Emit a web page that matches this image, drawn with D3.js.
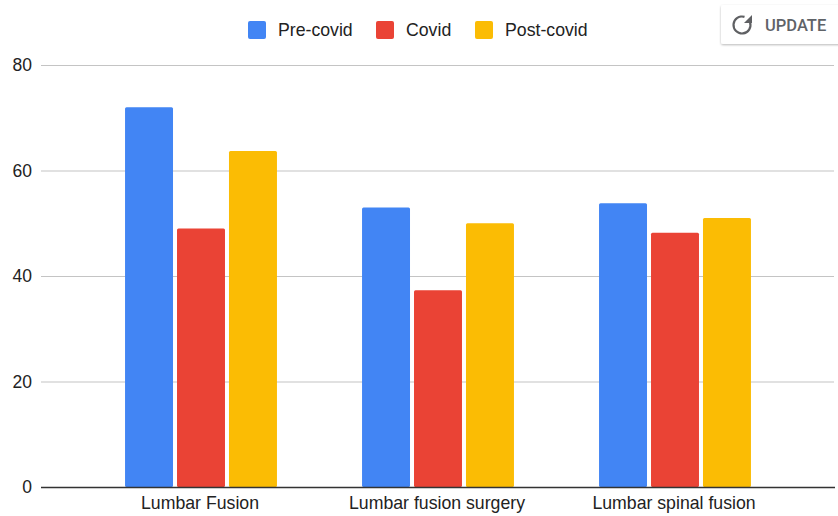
<!DOCTYPE html>
<html>
<head>
<meta charset="utf-8">
<script src="https://d3js.org/d3.v7.min.js"></script>
<style>
html, body { margin: 0; padding: 0; background: #fff; }
text { font-family: "Liberation Sans", Arial, sans-serif; fill: #222; }
</style>
</head>
<body>
<div id="chart"></div>
<script>
var categories = ["Lumbar Fusion", "Lumbar fusion surgery", "Lumbar spinal fusion"];
var seriesNames = ["Pre-covid", "Covid", "Post-covid"];
var preCovid = [72, 53, 53.8];
var covid = [49, 37.3, 48.2];
var postCovid = [63.7, 50, 51];
var yTicks = [0, 20, 40, 60, 80];
var seriesColors = ["#4285f4", "#ea4335", "#fbbc04"];
var seriesValues = [preCovid, covid, postCovid];

var width = 838, height = 516;

var svg = d3.select("#chart")
  .append("svg")
  .attr("width", width)
  .attr("height", height)
  .style("display", "block");

// scales
var y = d3.scaleLinear().domain([0, 80]).range([487, 65]);
var x0 = d3.scaleBand()
  .domain(categories)
  .range([82.5, 793.5])
  .paddingInner(0.359)
  .paddingOuter(0.1795);
var x1 = d3.scaleBand()
  .domain(seriesNames)
  .range([0, x0.bandwidth()])
  .paddingInner(0.077);

// gridlines + y labels
var yAxis = d3.axisLeft(y).tickValues(yTicks).tickSize(-793).tickPadding(9);
var yG = svg.append("g")
  .attr("transform", "translate(41,0)")
  .call(yAxis);
yG.select(".domain").remove();
yG.selectAll(".tick line").attr("stroke", "#c4c4c4").attr("stroke-width", 1.2);
yG.selectAll(".tick text").attr("font-size", 17.5).style("font-family", null).attr("font-family", null);

// bars
categories.forEach(function (cat, i) {
  svg.append("g")
    .attr("transform", "translate(" + x0(cat) + ",0)")
    .selectAll("rect")
    .data(seriesNames)
    .join("rect")
    .attr("x", function (d) { return x1(d); })
    .attr("y", function (d, s) { return y(seriesValues[s][i]); })
    .attr("width", x1.bandwidth())
    .attr("height", function (d, s) { return y(0) - y(seriesValues[s][i]); })
    .attr("rx", 1.5)
    .attr("fill", function (d, s) { return seriesColors[s]; });
});

// baseline and category labels
var xAxis = d3.axisBottom(x0).tickSize(0).tickPadding(9);
var xG = svg.append("g")
  .attr("transform", "translate(-1,487)")
  .call(xAxis);
xG.select(".domain").remove();
xG.selectAll(".tick text").attr("font-size", 17.7);
svg.append("line")
  .attr("x1", 41).attr("x2", 835)
  .attr("y1", 487.5).attr("y2", 487.5)
  .attr("stroke", "#333")
  .attr("stroke-width", 1.4);

// legend
var legendSwatchX = [248, 376, 475];
var legend = svg.append("g").selectAll("g")
  .data(seriesNames)
  .join("g")
  .attr("transform", function (d, i) { return "translate(" + legendSwatchX[i] + ",21)"; });
legend.append("rect")
  .attr("width", 18).attr("height", 18).attr("rx", 2)
  .attr("fill", function (d, i) { return seriesColors[i]; });
legend.append("text")
  .attr("x", 30).attr("y", 14.5)
  .attr("font-size", 17.7)
  .text(function (d) { return d; });

// update button overlay
var defs = svg.append("defs");
var blur = defs.append("filter").attr("id", "btnShadow")
  .attr("x", "-10%").attr("y", "-20%").attr("width", "120%").attr("height", "150%");
blur.append("feDropShadow")
  .attr("dx", 0).attr("dy", 1).attr("stdDeviation", 1.2)
  .attr("flood-color", "#000").attr("flood-opacity", 0.28);
var btn = svg.append("g").attr("transform", "translate(721,5)");
btn.append("rect")
  .attr("width", 130).attr("height", 39).attr("rx", 2)
  .attr("fill", "#fff")
  .attr("filter", "url(#btnShadow)");
var arc = d3.arc().innerRadius(7.4).outerRadius(9.6)
  .startAngle(1.25).endAngle(2 * Math.PI + 0.3);
btn.append("path")
  .attr("d", arc())
  .attr("transform", "translate(21,20)")
  .attr("fill", "#5f6063");
btn.append("path")
  .attr("d", "M31 10 L31 18 L23 18 Z")
  .attr("fill", "#5f6063");
btn.append("text")
  .attr("x", 44).attr("y", 25.5)
  .attr("font-size", 16.5)
  .attr("font-weight", 500)
  .style("font-family", "Roboto, sans-serif")
  .style("fill", "#5f6368")
  .text("UPDATE");
</script>
</body>
</html>
